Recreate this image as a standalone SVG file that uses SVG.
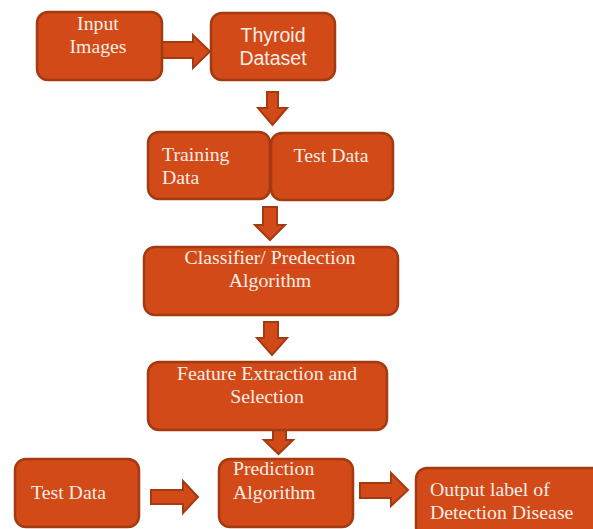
<svg xmlns="http://www.w3.org/2000/svg" width="593" height="529" viewBox="0 0 593 529">
<style>
.box{fill:#D14A17;stroke:#A33A12;stroke-width:2.5}
.arr{fill:#D14A17;stroke:#A33A12;stroke-width:2;stroke-linejoin:miter}
.t{font-family:"Liberation Serif","Times New Roman",serif;font-size:19.8px;fill:#FBEDE6}
.s{font-family:"Liberation Sans",Arial,sans-serif;font-size:19.5px;fill:#FBEDE6}
</style>
<rect width="593" height="529" fill="#ffffff"/>
<g id="connectors">
<polygon class="arr" points="162,42 193,42 193,35 210,51.5 193,68 193,58 162,58"/>
<polygon class="arr" points="267,92 278,92 278,108 287,108 272.5,125 258,108 267,108"/>
<polygon class="arr" points="263,207 277,207 277,225 285,225 270,240 255,225 263,225"/>
<polygon class="arr" points="264,322 278,322 278,338 287,338 272,355 257,338 264,338"/>
<polygon class="arr" points="273,422 286,422 286,440 293,440 278.5,454 264,440 273,440"/>
<polygon class="arr" points="151,490 183,490 183,481 198,497 183,513 183,504 151,504"/>
<polygon class="arr" points="360,483 391,483 391,473 408,490 391,506 391,498 360,498"/>
</g>
<g id="input-images">
<rect class="box" x="37" y="12" width="125" height="68" rx="11"/>
<text class="t" x="98" y="30" text-anchor="middle">Input</text>
<text class="t" x="98" y="53" text-anchor="middle">Images</text>
</g>
<g id="thyroid-dataset">
<rect class="box" x="211" y="13" width="124" height="67" rx="11"/>
<text class="s" x="273" y="42" text-anchor="middle">Thyroid</text>
<text class="s" x="273" y="65" text-anchor="middle">Dataset</text>
</g>
<g id="training-data">
<rect class="box" x="148" y="132" width="122" height="67" rx="11"/>
<text class="t" x="162" y="161">Training</text>
<text class="t" x="162" y="184">Data</text>
</g>
<g id="test-data-1">
<rect class="box" x="271" y="133" width="122" height="67" rx="11"/>
<text class="t" x="331" y="162" text-anchor="middle">Test Data</text>
</g>
<g id="classifier">
<rect class="box" x="144" y="247" width="254" height="68" rx="11"/>
<text class="t" x="270" y="264" text-anchor="middle">Classifier/ Predection</text>
<polyline points="271,268.5 273,267 275,268.5 277,267 279,268.5 281,267 283,268.5 285,267 287,268.5 289,267 291,268.5 293,267 295,268.5 297,267 299,268.5 301,267 303,268.5 305,267 307,268.5 309,267 311,268.5 313,267 315,268.5 317,267 319,268.5 321,267 323,268.5 325,267 327,268.5 329,267 331,268.5 333,267 335,268.5 337,267 339,268.5 341,267 343,268.5 345,267 347,268.5 349,267 351,268.5 353,267 355,268.5" fill="none" stroke="#E8302A" stroke-width="1"/>
<text class="t" x="270" y="287" text-anchor="middle">Algorithm</text>
</g>
<g id="feature-extraction">
<rect class="box" x="148" y="362" width="239" height="68" rx="11"/>
<text class="t" x="267" y="380" text-anchor="middle">Feature Extraction and</text>
<text class="t" x="267" y="403" text-anchor="middle">Selection</text>
</g>
<g id="test-data-2">
<rect class="box" x="15" y="459" width="124" height="68" rx="11"/>
<text class="t" x="31" y="499">Test Data</text>
</g>
<g id="prediction-algorithm">
<rect class="box" x="219" y="459" width="134" height="68" rx="11"/>
<text class="t" x="233" y="475">Prediction</text>
<text class="t" x="233" y="499">Algorithm</text>
</g>
<g id="output-label">
<rect class="box" x="416" y="468" width="190" height="70" rx="11"/>
<text class="t" x="430" y="496">Output label of</text>
<text class="t" x="430" y="519">Detection Disease</text>
</g>
</svg>
